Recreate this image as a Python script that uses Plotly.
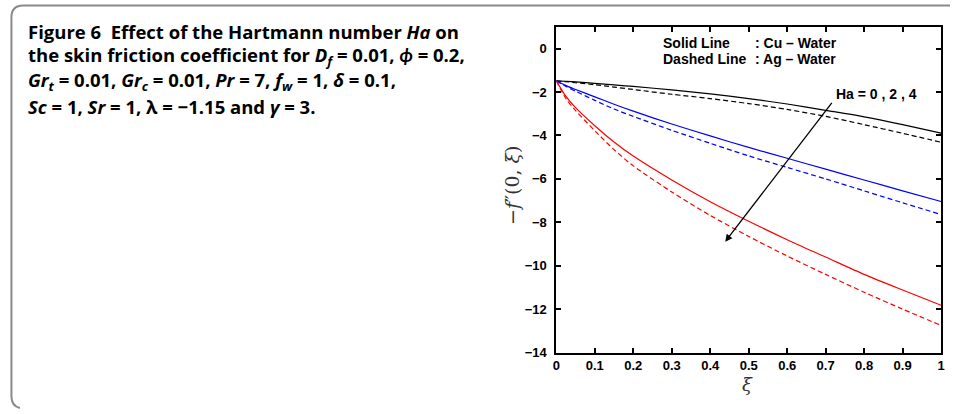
import plotly.graph_objects as go

# Skin friction -f''(0, xi) versus xi for Ha = 0, 2, 4
xi = [0, 0.025, 0.05, 0.1, 0.15, 0.2, 0.3, 0.4, 0.5, 0.6, 0.7, 0.8, 0.9, 1.0]
cu_ha0 = [-1.48, -1.50, -1.53, -1.60, -1.67, -1.74, -1.90, -2.08, -2.30, -2.55, -2.84, -3.14, -3.50, -3.89]
ag_ha0 = [-1.48, -1.52, -1.57, -1.66, -1.77, -1.88, -2.10, -2.30, -2.53, -2.80, -3.12, -3.50, -3.90, -4.31]
cu_ha2 = [-1.48, -1.70, -1.88, -2.22, -2.56, -2.88, -3.47, -4.02, -4.55, -5.05, -5.55, -6.05, -6.55, -7.04]
ag_ha2 = [-1.48, -1.74, -1.96, -2.38, -2.78, -3.12, -3.76, -4.36, -4.94, -5.47, -6.00, -6.55, -7.10, -7.64]
cu_ha4 = [-1.48, -2.20, -2.72, -3.55, -4.30, -4.95, -6.05, -7.05, -7.95, -8.80, -9.60, -10.40, -11.12, -11.82]
ag_ha4 = [-1.48, -2.30, -2.85, -3.78, -4.65, -5.40, -6.60, -7.68, -8.65, -9.55, -10.40, -11.22, -12.00, -12.75]

series = [
    (cu_ha0, "black", "solid"),
    (ag_ha0, "black", "5px,3px"),
    (cu_ha2, "#0000ff", "solid"),
    (ag_ha2, "#0000ff", "5px,3px"),
    (cu_ha4, "#ff0000", "solid"),
    (ag_ha4, "#ff0000", "5px,3px"),
]

W, H = 954, 414


def px(x):
    return x / W


def py(y):
    return 1 - y / H


fig = go.Figure()
for ys, col, dash in series:
    fig.add_trace(go.Scatter(
        x=xi, y=ys, mode="lines", showlegend=False,
        line=dict(color=col, width=1.2, dash=dash, shape="spline", smoothing=0.8),
    ))

tickfont = dict(family="Liberation Sans, Arial, sans-serif", size=13, color="black", weight="bold")
axis_common = dict(
    showline=True, linecolor="black", linewidth=2, mirror="ticks",
    ticks="inside", ticklen=5, tickwidth=1.5, tickcolor="black",
    showgrid=False, zeroline=False, tickfont=tickfont,
)
fig.update_xaxes(range=[0, 1], tick0=0, dtick=0.1, domain=[px(557), px(945)], **axis_common)
fig.update_yaxes(range=[-14, 1], tick0=0, dtick=2, domain=[py(359.5), py(27.5)],
                 ticklabelstandoff=5, **axis_common)

ann_font = dict(family="Liberation Sans, Arial, sans-serif", size=14, color="black", weight="bold")
notes = [
    ("Solid Line", 662.7, 43.7),
    (": Cu \u2013 Water", 755, 43.7),
    ("Dashed Line", 662.7, 60),
    (": Ag \u2013 Water", 755, 60),
    ("Ha = 0 , 2 , 4", 837, 95.7),
]
for txt, x0, y0 in notes:
    fig.add_annotation(text=txt, x=px(x0), y=py(y0), xref="paper", yref="paper",
                       xanchor="left", yanchor="middle", showarrow=False, font=ann_font)

# arrow showing increasing Ha
fig.add_annotation(x=0.439, y=-8.89, ax=0.719, ay=-2.43, xref="x", yref="y",
                   axref="x", ayref="y", text="", showarrow=True,
                   arrowhead=2, arrowsize=1.1, arrowwidth=1.3, arrowcolor="black")

# axis titles
serif = "DejaVu Serif, Liberation Serif, serif"
fig.add_annotation(text="\u2212<i>f</i>\u2033(0, <i>\u03be</i>)", x=px(513), y=py(189),
                   xref="paper", yref="paper", xanchor="center", yanchor="middle",
                   showarrow=False, textangle=-90,
                   font=dict(family=serif, size=19, color="#333"))
fig.add_annotation(text="<i>\u03be</i>", x=px(750), y=py(392), xref="paper", yref="paper",
                   xanchor="center", yanchor="middle",
                   showarrow=False, font=dict(family=serif, size=18, color="#333"))

# caption block
cap_font = dict(family="Open Sans, Lato, sans-serif", size=18.5, color="black", weight="bold")
caption = [
    ("Figure 6\u00a0\u00a0Effect of the Hartmann number <i>Ha</i> on", 31.7),
    ("the skin friction coefficient for <i>D<sub>f</sub></i> = 0.01, <i>\u03d5</i> = 0.2,", 57),
    ("<i>Gr<sub>t</sub></i> = 0.01, <i>Gr<sub>c</sub></i> = 0.01, <i>Pr</i> = 7, <i>f<sub>w</sub></i> = 1, <i>\u03b4</i> = 0.1,", 83),
    ("<i>Sc</i> = 1, <i>Sr</i> = 1, \u03bb = \u22121.15 and <i>\u03b3</i> = 3.", 108.5),
]
for txt, y0 in caption:
    fig.add_annotation(text=txt, x=px(22), y=py(y0), xref="paper", yref="paper",
                       xanchor="left", yanchor="middle", showarrow=False, font=cap_font)

# rounded panel border (top and left edges)
r = 12
path = (f"M {px(954)},{py(5.5)} L {px(7.5 + r)},{py(5.5)} "
        f"Q {px(7.5)},{py(5.5)} {px(7.5)},{py(5.5 + r)} "
        f"L {px(7.5)},{py(404)} Q {px(7.5)},{py(414)} {px(16)},{py(416)}")
fig.add_shape(type="path", path=path, xref="paper", yref="paper",
              line=dict(color="#8a8a8a", width=2))

fig.update_layout(
    width=W, height=H, margin=dict(l=0, r=0, t=0, b=0),
    paper_bgcolor="white", plot_bgcolor="white",
)
fig.write_html("out.html")
